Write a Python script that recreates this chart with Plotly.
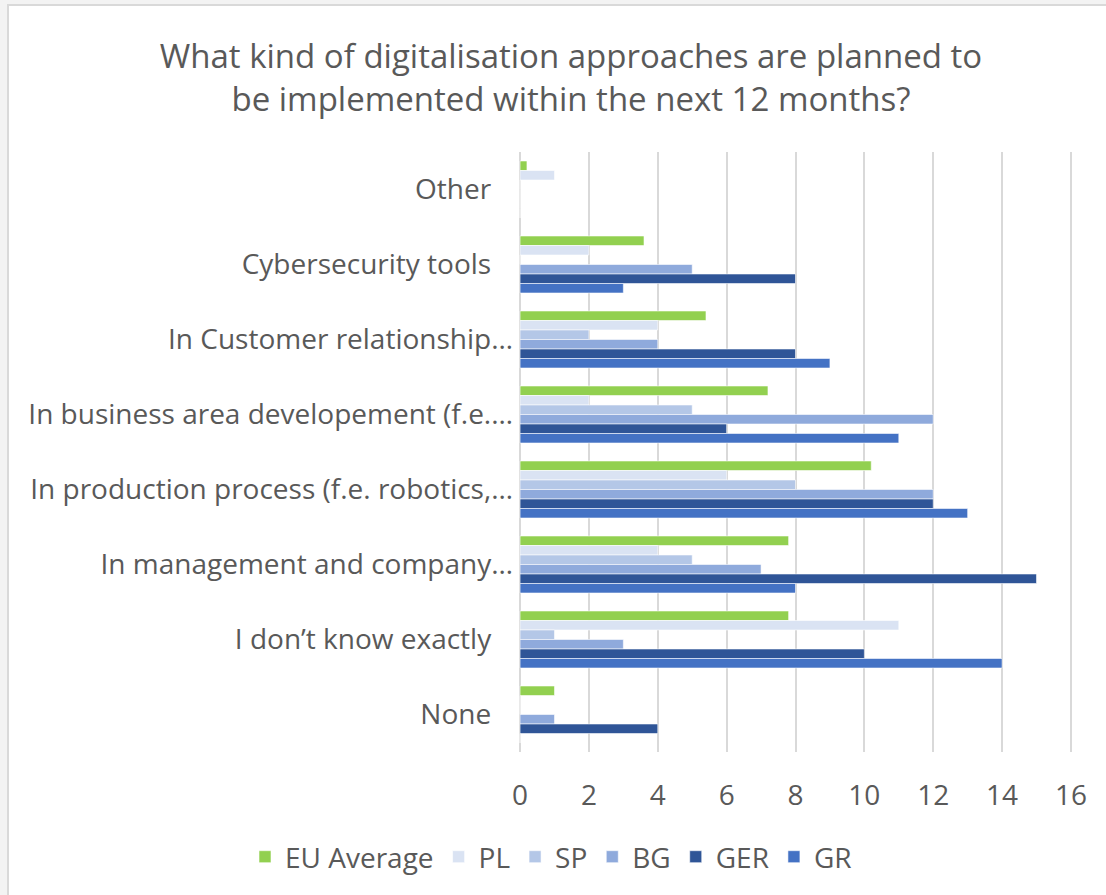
import plotly.graph_objects as go

categories = [
    "Other",
    "Cybersecurity tools",
    "In Customer relationship…",
    "In business area developement (f.e.…",
    "In production process (f.e. robotics,…",
    "In management and company…",
    "I don’t know exactly",
    "None",
]
series_names = ["EU Average", "PL", "SP", "BG", "GER", "GR"]
eu_average = [0.2, 3.6, 5.4, 7.2, 10.2, 7.8, 7.8, 1]
pl = [1, 2, 4, 2, 6, 4, 11, 0]
sp = [0, 0, 2, 5, 8, 5, 1, 0]
bg = [0, 5, 4, 12, 12, 7, 3, 1]
ger = [0, 8, 8, 6, 12, 15, 10, 4]
gr = [0, 3, 9, 11, 13, 8, 14, 0]
series_values = [eu_average, pl, sp, bg, ger, gr]
colors = ["#92D050", "#DAE3F3", "#B4C7E7", "#8FAADC", "#2F5597", "#4472C4"]
x_ticks = [0, 2, 4, 6, 8, 10, 12, 14, 16]

# labels without ellipsis sit a little further from the axis in the source
labels = [c if c.endswith("…") else c + "\u00a0\u00a0\u00a0" for c in categories]

FONT = "Open Sans"
GREY = "#595959"

fig = go.Figure()
for name, vals, col in zip(series_names, series_values, colors):
    fig.add_trace(go.Bar(
        y=labels, x=vals, name=name, orientation="h",
        marker=dict(color=col, line=dict(color="rgba(255,255,255,0.7)", width=0.8)),
    ))

L, R, T, B = 518, 33, 152, 143
W, H = 1106, 895
pw, ph = W - L - R, H - T - B

def px_x(v):
    return (v - L) / pw

def px_y(v):
    return 1 - (v - T) / ph

fig.update_layout(
    width=W, height=H,
    margin=dict(l=L, r=R, t=T, b=B, autoexpand=False),
    paper_bgcolor="#f3f3f3", plot_bgcolor="rgba(0,0,0,0)",
    barmode="group", bargap=0.24, bargroupgap=0,
    font=dict(family=FONT, color=GREY),
    title=dict(
        text="What kind of digitalisation approaches are planned to<br>be implemented within the next 12 months?",
        x=571 / W, xanchor="center", y=1 - 68 / H, yanchor="middle",
        font=dict(size=33, color=GREY, family=FONT),
    ),
    legend=dict(
        orientation="h", x=px_x(245), xanchor="left",
        y=px_y(857), yanchor="middle",
        font=dict(size=28, color=GREY, family=FONT),
        itemwidth=30, traceorder="normal", bgcolor="rgba(0,0,0,0)",
    ),
    xaxis=dict(
        range=[-0.06, 16.06], tickvals=x_ticks, showgrid=True, gridcolor="#d9d9d9",
        gridwidth=1.5, zeroline=True, zerolinecolor="#d9d9d9", zerolinewidth=1.5,
        showline=False, ticks="",
        tickfont=dict(size=28, color=GREY), ticklabelstandoff=24,
    ),
    yaxis=dict(
        autorange="reversed", showgrid=False, zeroline=False, showline=False,
        ticks="", tickfont=dict(size=28, color=GREY), ticklabelstandoff=4,
    ),
    shapes=[
        dict(type="rect", xref="paper", yref="paper",
             x0=px_x(8), x1=px_x(W + 10),
             y0=px_y(H + 10), y1=px_y(5),
             fillcolor="white",
             line=dict(color="#d9d9d9", width=2), layer="below"),
    ],
)

fig.write_html("out.html", config={"displayModeBar": False},
               post_script="document.body.style.margin='0';")
